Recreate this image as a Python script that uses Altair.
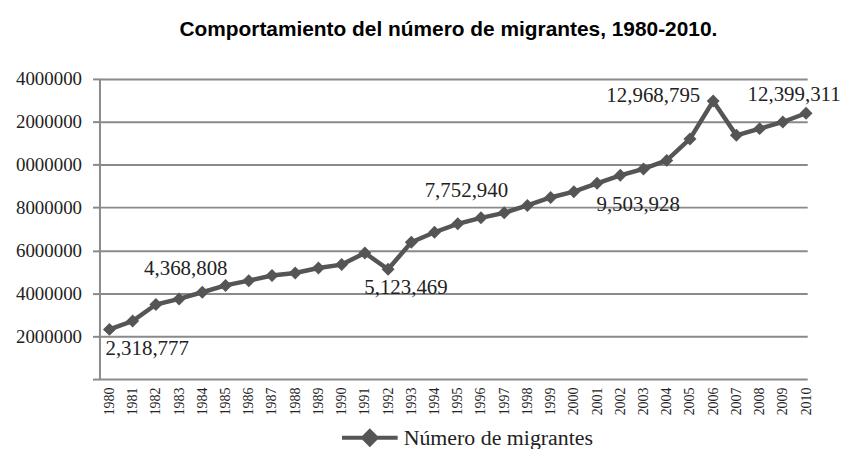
import altair as alt
import pandas as pd

years = list(range(1980, 2011))
migrantes = [
    2318777, 2710000, 3480000, 3740000, 4050000, 4368808, 4590000, 4830000,
    4950000, 5180000, 5340000, 5880000, 5123469, 6380000, 6850000, 7240000,
    7520000, 7752940, 8100000, 8470000, 8740000, 9130000, 9503928, 9800000,
    10200000, 11200000, 12968795, 11370000, 11680000, 11990000, 12399311,
]
serie = "Número de migrantes"
label_years = [1980, 1985, 1992, 1997, 2002, 2006, 2010]
y_ticks = [0, 2000000, 4000000, 6000000, 8000000, 10000000, 12000000, 14000000]

df = pd.DataFrame({"anio": years, "migrantes": migrantes, "serie": serie})

# label placement styles (dx, dy, align)
label_style = {
    1980: (-4, 20, "left"),
    1985: (-40, -16, "center"),
    1992: (18, 19, "center"),
    1997: (-38, -22, "center"),
    2002: (18, 30, "center"),
    2006: (-13, -5, "right"),
    2010: (-12, -18, "center"),
}

GRAY = "#555555"
SERIF = "Liberation Serif"

x_enc = alt.X(
    "anio:Q",
    scale=alt.Scale(domain=[1979.57, 2010.05], nice=False, zero=False),
    axis=alt.Axis(
        values=years, format="d", labelAngle=-90, ticks=False, domain=False,
        grid=False, labelFont=SERIF, labelFontSize=14, labelColor="#222222",
        labelPadding=8, title=None, labelOverlap=False,
    ),
)
y_enc = alt.Y(
    "migrantes:Q",
    scale=alt.Scale(domain=[0, 14000000], nice=False),
    axis=alt.Axis(
        values=y_ticks, grid=True, gridColor="#8a8a8a", gridWidth=2,
        domain=True, domainColor="#8a8a8a", domainWidth=2,
        ticks=True, tickColor="#8a8a8a", tickWidth=2, tickSize=7,
        labelExpr="datum.value == 0 ? '' : slice(toString(datum.value), -7)",
        labelFont=SERIF, labelFontSize=19, labelColor="#222222",
        labelPadding=11, title=None,
    ),
)
legend = alt.Legend(
    title=None, orient="none", legendX=242, legendY=331, padding=0,
    symbolType="M-1,0L1,0M0,-0.24L0.24,0L0,0.24L-0.24,0Z",
    symbolSize=3136, symbolStrokeWidth=4, symbolFillColor=GRAY,
    symbolStrokeColor=GRAY, symbolOpacity=1, labelFont=SERIF, labelFontSize=22,
    labelColor="#222222", labelOffset=4, labelLimit=0,
)
color_line = alt.Color("serie:N", scale=alt.Scale(range=[GRAY]), legend=legend)
color_pts = alt.Color("serie:N", scale=alt.Scale(range=[GRAY]), legend=None)

base = alt.Chart(df)
line = base.mark_line(strokeWidth=4.5).encode(x=x_enc, y=y_enc, color=color_line)
points = base.mark_point(shape="diamond", filled=True, size=170, opacity=1).encode(
    x=x_enc, y=y_enc, color=color_pts
)

layers = [line, points]
for yr in label_years:
    dx, dy, align = label_style[yr]
    layers.append(
        base.transform_filter(alt.datum.anio == yr)
        .mark_text(dx=dx, dy=dy, align=align, baseline="middle", font=SERIF,
                   fontSize=21, color="#222222")
        .encode(x=x_enc, y=y_enc, text=alt.Text("migrantes:Q", format=",d"))
    )

chart = (
    alt.layer(*layers)
    .properties(
        width=712, height=302,
        autosize="none",
        padding={"left": 92, "top": 70, "right": 36, "bottom": 69},
        title=alt.TitleParams(
            "Comportamiento del número de migrantes, 1980-2010.",
            font="Liberation Sans", fontSize=21, fontWeight="bold",
            color="#000000", anchor="middle", offset=30, dx=-5,
        ),
        background="white",
    )
    .configure_view(stroke=None)
    .configure_axis(labelFont=SERIF)
)

chart.save("out.html", embed_options={"renderer": "svg", "actions": False})
